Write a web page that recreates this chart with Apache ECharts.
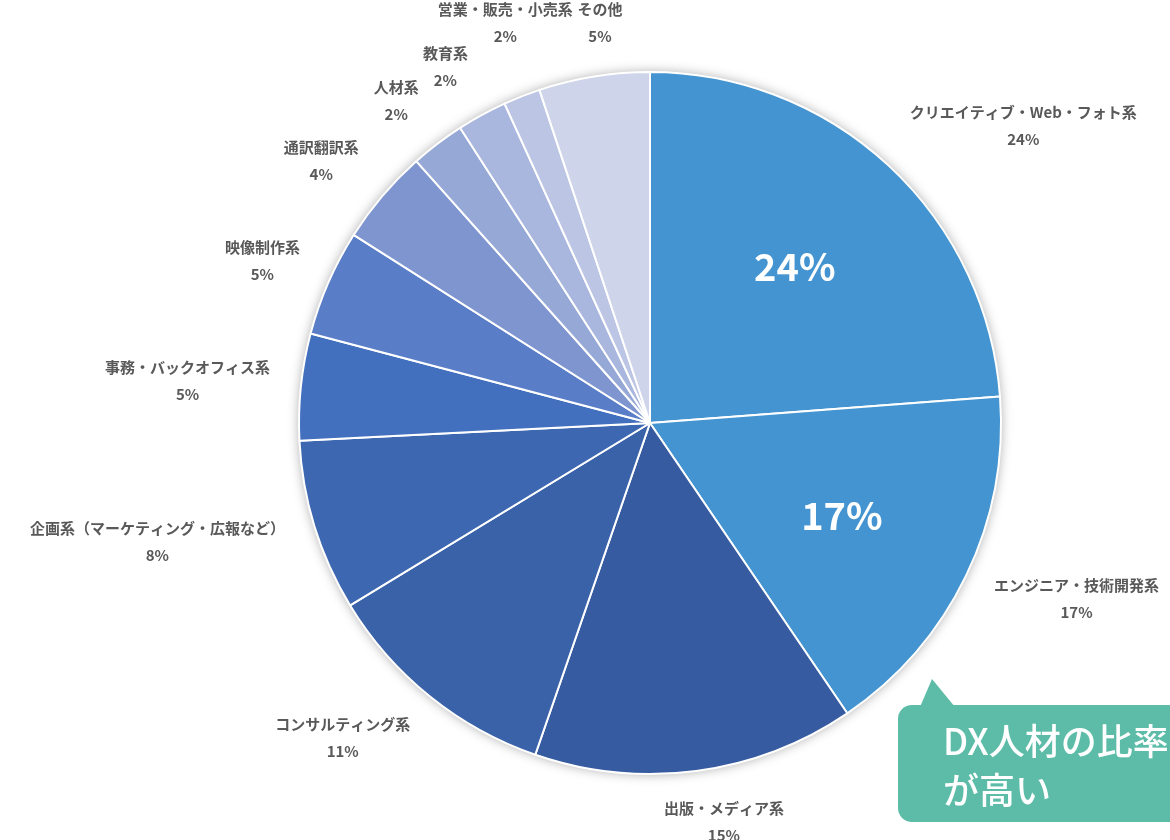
<!DOCTYPE html>
<html>
<head>
<meta charset="utf-8">
<script src="https://cdn.jsdelivr.net/npm/echarts@6/dist/echarts.min.js"></script>
<style>
html,body{margin:0;padding:0;background:#fff}
#main{width:1170px;height:840px}
</style>
</head>
<body>
<div id="main"></div>
<script>
// 職種別の割合（%）
const categories = [
  'クリエイティブ・Web・フォト系',
  'エンジニア・技術開発系',
  '出版・メディア系',
  'コンサルティング系',
  '企画系（マーケティング・広報など）',
  '事務・バックオフィス系',
  '映像制作系',
  '通訳翻訳系',
  '人材系',
  '教育系',
  '営業・販売・小売系',
  'その他'
]
const shares = [23.8, 16.7, 14.8, 11.0, 7.9, 4.9, 4.9, 4.4, 2.5, 2.3, 1.7, 5.1]
const sliceColors = [
  '#4394d0', '#4394d0', '#365ba0', '#3962a9', '#3d68b1', '#426fbe',
  '#5a7dc7', '#7e95cf', '#96a8d6', '#a9b6dd', '#bcc6e4', '#ced4e9'
]
const insideCount = 2 // 大きな白い%ラベルを付けるスライス数

const FONT = '"Noto Sans CJK JP", "Noto Sans", sans-serif'
const PIE_CENTER = [650, 423]
const PIE_R = 351

const chart = echarts.init(document.getElementById('main'))

// ラベルを外側の点から放射方向に押し出す（Excel風）
// 重なったら時計回りにずらす
let placed = []
function overlaps(a, b) {
  const gap = 4
  return a.x1 < b.x2 + gap && b.x1 < a.x2 + gap && a.y1 < b.y2 + gap && b.y1 < a.y2 + gap
}
function outsideLayout(p) {
  const pts = p.labelLinePoints
  if (!pts) return {}
  if (p.dataIndex === 0) placed = []
  const dx = pts[1][0] - pts[0][0]
  const dy = pts[1][1] - pts[0][1]
  const len = Math.hypot(dx, dy) || 1
  const ux = dx / len, uy = dy / len
  const hw = p.labelRect.width / 2
  const hh = p.labelRect.height / 2 - 7
  const fx = Math.min(1, 3 * Math.abs(ux)) * Math.sign(ux)
  const fy = Math.min(1, 1.15 * Math.abs(uy)) * Math.sign(uy)
  let cx = pts[1][0] + fx * hw
  let cy = pts[1][1] + fy * hh
  const tx = -uy, ty = ux
  const box = () => ({ x1: cx - hw, x2: cx + hw, y1: cy - hh, y2: cy + hh })
  for (let k = 0; k < 200 && placed.some(b => overlaps(box(), b)); k++) {
    cx += tx
    cy += ty
  }
  placed.push(box())
  return { x: cx, y: cy, align: 'center', verticalAlign: 'middle' }
}

const pieData = categories.map((name, i) => ({
  name: name,
  value: shares[i],
  itemStyle: { color: sliceColors[i] }
}))

chart.setOption({
  animation: false,
  backgroundColor: '#fff',
  series: [
    {
      // 影
      type: 'pie',
      center: PIE_CENTER,
      radius: PIE_R,
      silent: true,
      z: 1,
      label: { show: false },
      labelLine: { show: false },
      itemStyle: {
        color: '#fff',
        borderWidth: 0,
        shadowBlur: 12,
        shadowColor: 'rgba(0,0,0,0.35)'
      },
      data: [{ name: '', value: 1 }]
    },
    {
      type: 'pie',
      center: PIE_CENTER,
      radius: PIE_R,
      startAngle: 90,
      clockwise: true,
      avoidLabelOverlap: false,
      percentPrecision: 0,
      silent: true,
      z: 2,
      itemStyle: { borderColor: '#fff', borderWidth: 2 },
      label: {
        show: true,
        position: 'outside',
        formatter: '{b}\n{d}%',
        color: '#595959',
        fontSize: 15,
        fontWeight: 'bold',
        fontFamily: FONT,
        lineHeight: 27,
        align: 'center'
      },
      labelLine: {
        show: true,
        length: 31,
        length2: 0,
        lineStyle: { color: 'rgba(0,0,0,0)' }
      },
      labelLayout: outsideLayout,
      data: pieData
    },
    {
      // 内側の大きな%ラベル
      type: 'pie',
      center: PIE_CENTER,
      radius: 420,
      startAngle: 90,
      clockwise: true,
      avoidLabelOverlap: false,
      percentPrecision: 0,
      silent: true,
      z: 3,
      itemStyle: { color: 'rgba(0,0,0,0)', borderWidth: 0 },
      label: {
        show: true,
        position: 'inside',
        formatter: p => (p.dataIndex < insideCount ? p.percent + '%' : ''),
        color: '#fff',
        fontSize: 38,
        fontWeight: 'bold',
        fontFamily: FONT
      },
      labelLine: { show: false },
      data: categories.map((name, i) => ({ name: name, value: shares[i] }))
    }
  ],
  graphic: [
    {
      type: 'group',
      z: 10,
      children: [
        {
          type: 'rect',
          shape: { x: 898, y: 705, width: 320, height: 117, r: 14 },
          style: { fill: '#5cbca8' }
        },
        {
          type: 'polygon',
          shape: { points: [[932, 679], [920, 707], [955, 707]] },
          style: { fill: '#5cbca8' }
        },
        {
          type: 'text',
          x: 943,
          y: 766,
          style: {
            text: 'DX人材の比率\nが高い',
            fill: '#fff',
            fontSize: 36,
            fontWeight: 500,
            fontFamily: FONT,
            lineHeight: 49,
            verticalAlign: 'middle'
          }
        }
      ]
    }
  ]
})
</script>
</body>
</html>
